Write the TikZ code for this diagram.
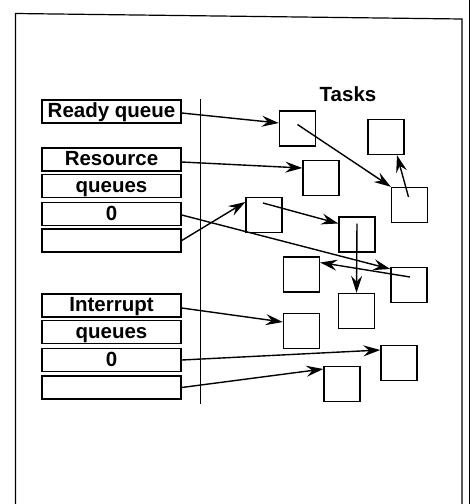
\documentclass[tikz,border=0pt]{standalone}
\usepackage{fontspec}
\setmainfont{Liberation Sans}
\usetikzlibrary{arrows.meta,calc}
\begin{document}
\begin{tikzpicture}[x=1pt,y=-1pt,
  qbox/.style={draw,line width=1.5pt,minimum width=139pt,minimum height=23pt,inner sep=0pt,
    font=\bfseries\fontsize{20.5}{21}\selectfont,text height=13.5pt,text depth=1pt},
  tbox/.style={draw,line width=1.4pt,minimum width=36pt,minimum height=35pt,inner sep=0pt},
  arr/.style={line width=1.4pt,-{Stealth[length=17pt,width=11pt,inset=6pt]}},
  frame/.style={line width=1.2pt}]
\useasboundingbox (0,0) rectangle (471,504);
% frame
\coordinate (fa) at (15.5,504);
\coordinate (fb) at (15.5,13.5);
\coordinate (fc) at (462,19);
\coordinate (fd) at (462,504);
\draw[frame] (fa) -- (fb) -- (fc) -- (fd);
\coordinate (fe) at (469,0);
\coordinate (ff) at (469,504);
\draw[line width=0.8pt] (fe) -- (ff);
% divider
\coordinate (da) at (200,99);
\coordinate (db) at (200,404);
\draw[line width=0.9pt] (da) -- (db);
% queues
\node[qbox] (rq) at (111.5,111.5) {Ready queue};
\node[qbox] (res) at (111.5,159.5) {Resource};
\node[qbox] (resq) at (111.5,186) {queues};
\node[qbox] (res0) at (111.5,214) {0};
\node[qbox] (resb) at (111.5,240.5) {};
\node[qbox] (int) at (111.5,305.5) {Interrupt};
\node[qbox] (intq) at (111.5,332) {queues};
\node[qbox] (int0) at (111.5,360) {0};
\node[qbox] (intb) at (111.5,387.5) {};
% tasks label
\node[font=\bfseries\fontsize{20.5}{21}\selectfont,anchor=base,inner sep=0pt] (tasks) at (348,101.5) {Tasks};
% task boxes
\node[tbox] (t1) at (297.5,128.5) {};
\node[tbox] (t2) at (386,137) {};
\node[tbox] (t3) at (321,178) {};
\node[tbox] (t4) at (409.5,205) {};
\node[tbox] (t5) at (264,215) {};
\node[tbox] (t6) at (357,234.5) {};
\node[tbox] (t7) at (301.5,274.5) {};
\node[tbox] (t8) at (409,285) {};
\node[tbox] (t9) at (356.5,311) {};
\node[tbox] (t10) at (301.5,331) {};
\node[tbox] (t11) at (399,363) {};
\node[tbox] (t12) at (342,384) {};
% arrows
\draw[arr] ($(rq.east)+(0,1.5)$) -- ($(t1.west)+(0,-5.5)$);
\draw[arr] ($(res.east)+(0,2.5)$) -- ($(t3.west)+(0,-10)$);
\draw[arr] ($(t1.center)+(0,-4)$) -- ($(t4.north west)+(0,0)$);
\draw[arr] ($(t4.center)+(-1,-8)$) -- ($(t2.south)+(11,0)$);
\draw[arr] (resb.east) -- ($(t5.west)+(0,-13)$);
\draw[arr] ($(t5.center)+(-1,-12)$) -- ($(t6.west)+(0,-11)$);
\draw[arr] ($(res0.east)+(0,1)$) -- ($(t8.west)+(0,-16)$);
\draw[arr] ($(t8.center)+(1,-8)$) -- ($(t7.east)+(0,-12)$);
\draw[arr] ($(t6.center)+(0,-11)$) -- (t9.north);
\draw[arr] ($(int.east)+(0,2.5)$) -- ($(t10.west)+(0,-9)$);
\draw[arr] (int0.east) -- ($(t11.west)+(0,-13)$);
\draw[arr] (intb.east) -- ($(t12.west)+(0,-15)$);
\end{tikzpicture}
\end{document}
